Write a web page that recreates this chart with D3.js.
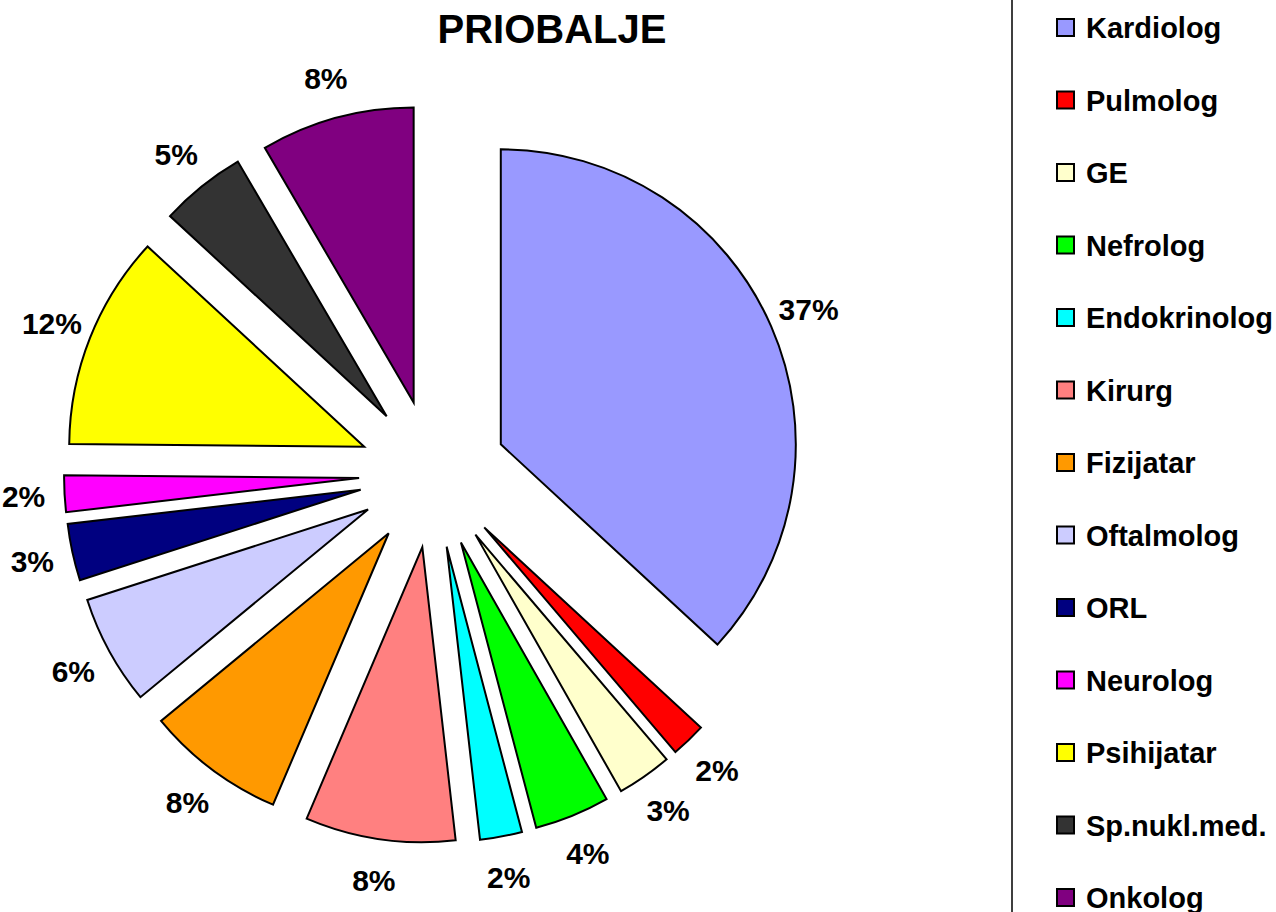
<!DOCTYPE html>
<html lang="en">
<head>
  <meta charset="UTF-8" />
  <title>PRIOBALJE - D3.js</title>
  <style>
    body {
      margin: 0;
      background: #fff;
      font-family: "Liberation Sans", Arial, sans-serif;
    }
    svg {
      display: block;
    }
    .slice {
      stroke: #000;
      stroke-width: 2px;
    }
    .pct {
      font-size: 30px;
      font-weight: bold;
    }
    .legend text {
      font-size: 29px;
      font-weight: bold;
    }
  </style>
</head>
<body>
  <svg width="1276" height="912"></svg>
  <script src="https://d3js.org/d3.v7.min.js"></script>
  <script>
    const categories = ["Kardiolog", "Pulmolog", "GE", "Nefrolog", "Endokrinolog", "Kirurg",
      "Fizijatar", "Oftalmolog", "ORL", "Neurolog", "Psihijatar", "Sp.nukl.med.", "Onkolog"];
    // shares (labels show them rounded)
    const values = [36.8, 1.9, 3.0, 4.1, 2.3, 8.2, 7.6, 6.0, 3.1, 2.0, 11.7, 4.7, 8.4];
    const colors = ["#9999ff", "#ff0000", "#ffffcc", "#00ff00", "#00ffff", "#ff8080",
      "#ff9900", "#ccccff", "#000080", "#ff00ff", "#ffff00", "#333333", "#800080"];

    const svg = d3.select("svg");
    const cx = 433, cy = 474;
    const radius = 295;
    const explode = 74;
    const labelRadius = 410;

    const total = d3.sum(values);
    const data = categories.map((c, i) => ({ name: c, value: values[i], color: colors[i] }));

    const pie = d3.pie().value(d => d.value).sort(null);
    const arc = d3.arc().innerRadius(0).outerRadius(radius);
    const arcs = pie(data);

    const mid = d => (d.startAngle + d.endAngle) / 2;

    // title
    svg.append("text")
      .attr("x", 552)
      .attr("y", 43)
      .attr("text-anchor", "middle")
      .style("font-size", "40px")
      .style("font-weight", "bold")
      .text("PRIOBALJE");

    const g = svg.append("g").attr("transform", `translate(${cx},${cy})`);

    g.selectAll("path")
      .data(arcs)
      .enter().append("path")
      .attr("class", "slice")
      .attr("fill", d => d.data.color)
      .attr("transform", d => `translate(${Math.sin(mid(d)) * explode},${-Math.cos(mid(d)) * explode})`)
      .attr("d", arc);

    g.selectAll("text.pct")
      .data(arcs)
      .enter().append("text")
      .attr("class", "pct")
      .attr("x", d => Math.sin(mid(d)) * labelRadius)
      .attr("y", d => -Math.cos(mid(d)) * labelRadius)
      .attr("dy", "0.36em")
      .attr("text-anchor", "middle")
      .text(d => Math.round(d.data.value / total * 100) + "%");

    // legend box (only its left border is inside the picture)
    svg.append("rect")
      .attr("x", 1012)
      .attr("y", -5)
      .attr("width", 400)
      .attr("height", 1000)
      .attr("fill", "none")
      .attr("stroke", "#000")
      .attr("stroke-width", 1.5);

    const legendY = d3.scaleLinear().domain([0, categories.length - 1]).range([28, 898]);

    const item = svg.append("g").attr("class", "legend")
      .selectAll("g")
      .data(data)
      .enter().append("g")
      .attr("transform", (d, i) => `translate(1057,${legendY(i)})`);

    item.append("rect")
      .attr("x", 0)
      .attr("y", -9)
      .attr("width", 17)
      .attr("height", 17)
      .attr("fill", d => d.color)
      .attr("stroke", "#000")
      .attr("stroke-width", 2);

    item.append("text")
      .attr("x", 29)
      .attr("y", 10)
      .text(d => d.name);
  </script>
</body>
</html>
